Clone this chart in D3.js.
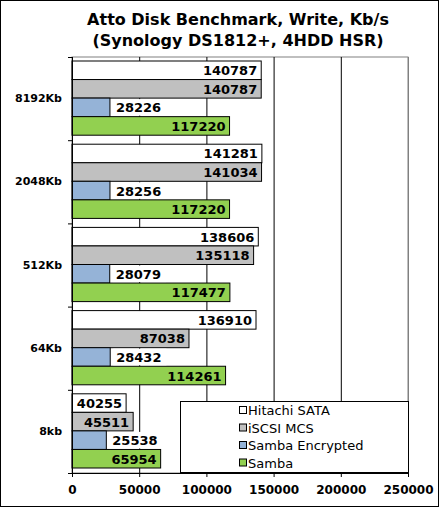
<!DOCTYPE html>
<html><head><meta charset="utf-8">
<script src="https://cdn.jsdelivr.net/npm/d3@7"></script>
<style>body{margin:0;background:#fff}</style>
</head><body>
<div id="chart"></div>
<script>
const categories = ["8192Kb", "2048Kb", "512Kb", "64Kb", "8kb"];
const seriesNames = ["Hitachi SATA", "iSCSI MCS", "Samba Encrypted", "Samba"];
const seriesColors = ["#ffffff", "#c0c0c0", "#95b3d7", "#92d050"];
const hitachi = [140787, 141281, 138606, 136910, 40255];
const iscsi = [140787, 141034, 135118, 87038, 45511];
const sambaEnc = [28226, 28256, 28079, 28432, 25538];
const samba = [117220, 117220, 117477, 114261, 65954];
const xTicks = [0, 50000, 100000, 150000, 200000, 250000];

const values = [hitachi, iscsi, sambaEnc, samba];
const W = 439, H = 507;
const font = "Verdana, 'DejaVu Sans', sans-serif";

const svg = d3.select("#chart").append("svg").attr("width", W).attr("height", H)
  .style("font-family", font);

svg.append("rect").attr("x", 0.5).attr("y", 0.5).attr("width", W - 1).attr("height", H - 1)
  .attr("fill", "#fff").attr("stroke", "#000");

svg.append("text").attr("x", 238).attr("y", 25).attr("text-anchor", "middle")
  .style("font-size", "16px").style("font-weight", "bold").text("Atto Disk Benchmark, Write, Kb/s");
svg.append("text").attr("x", 238).attr("y", 46).attr("text-anchor", "middle")
  .style("font-size", "16px").style("font-weight", "bold").text("(Synology DS1812+, 4HDD HSR)");

const x = d3.scaleLinear().domain([0, 250000]).range([72, 408]);
const y = d3.scaleBand().domain(categories).range([57, 473]);
const inner = d3.scaleBand().domain(d3.range(4)).range([4, y.bandwidth() - 5]);

// plot frame + gridlines
svg.append("rect").attr("x", 72).attr("y", 57).attr("width", 336).attr("height", 416)
  .attr("fill", "#fff").attr("stroke", "#808080");
svg.selectAll(".grid").data(xTicks.slice(1)).enter().append("line")
  .attr("x1", d => x(d) + 0.5).attr("x2", d => x(d) + 0.5)
  .attr("y1", 57).attr("y2", 473).attr("stroke", d => d === 250000 ? "#808080" : "#000");

const rows = [];
categories.forEach((c, i) => values.forEach((v, s) => rows.push({c, s, v: v[i]})));

const g = svg.append("g");
g.selectAll("rect").data(rows).enter().append("rect")
  .attr("x", x(0)).attr("y", d => y(d.c) + inner(d.s)).attr("width", d => x(d.v) - x(0))
  .attr("height", inner.bandwidth()).attr("fill", d => seriesColors[d.s]).attr("stroke", "#000");

rows.forEach(d => {
  const yy = y(d.c) + inner(d.s) + inner.bandwidth() / 2 + 5;
  const t = g.append("text").attr("y", yy).style("font-size", "13px").style("font-weight", "bold")
    .text(d.v);
  if (d.v < 30000) {
    const tx = x(d.v) + 6;
    t.attr("x", tx);
    const bb = t.node().getBBox();
    g.insert("rect", () => t.node()).attr("x", bb.x - 3).attr("y", y(d.c) + inner(d.s) + 1)
      .attr("width", bb.width + 8).attr("height", inner.bandwidth() - 2).attr("fill", "#fff");
  } else {
    t.attr("x", x(d.v) - 4).attr("text-anchor", "end");
  }
});

// axes
svg.append("g").attr("transform", "translate(72,0)")
  .call(d3.axisLeft(y).tickSize(0).tickFormat(d => d).tickPadding(10))
  .call(a => a.select(".domain").remove())
  .selectAll("text").style("font-size", "11px").style("font-weight", "bold").attr("font-family", font);
svg.append("line").attr("x1", 72.5).attr("x2", 72.5).attr("y1", 57).attr("y2", 473).attr("stroke", "#000");
svg.selectAll(".ytick").data(d3.range(6)).enter().append("line")
  .attr("x1", 68).attr("x2", 72).attr("y1", i => 57 + i * y.step() + 0.5).attr("y2", i => 57 + i * y.step() + 0.5)
  .attr("stroke", "#000");
svg.append("g").attr("transform", "translate(0,473)")
  .call(d3.axisBottom(x).tickValues(xTicks).tickFormat(d3.format("d")).tickSize(4).tickSizeOuter(0).tickPadding(8))
  .call(a => a.select(".domain").attr("stroke", "#000"))
  .selectAll("text").style("font-size", "12px").style("font-weight", "bold").attr("font-family", font).attr("fill", "#000");

// legend
const lg = svg.append("g").attr("transform", "translate(180,401)");
lg.append("rect").attr("x", 0.5).attr("y", 0.5).attr("width", 228).attr("height", 71)
  .attr("fill", "#fff").attr("stroke", "#000");
seriesNames.forEach((n, i) => {
  lg.append("rect").attr("x", 59.5).attr("y", 5.5 + i * 17.5).attr("width", 7).attr("height", 7)
    .attr("fill", seriesColors[i]).attr("stroke", "#000");
  lg.append("text").attr("x", 68).attr("y", 14 + i * 17.5).style("font-size", "13px").text(n);
});
</script>
</body></html>
